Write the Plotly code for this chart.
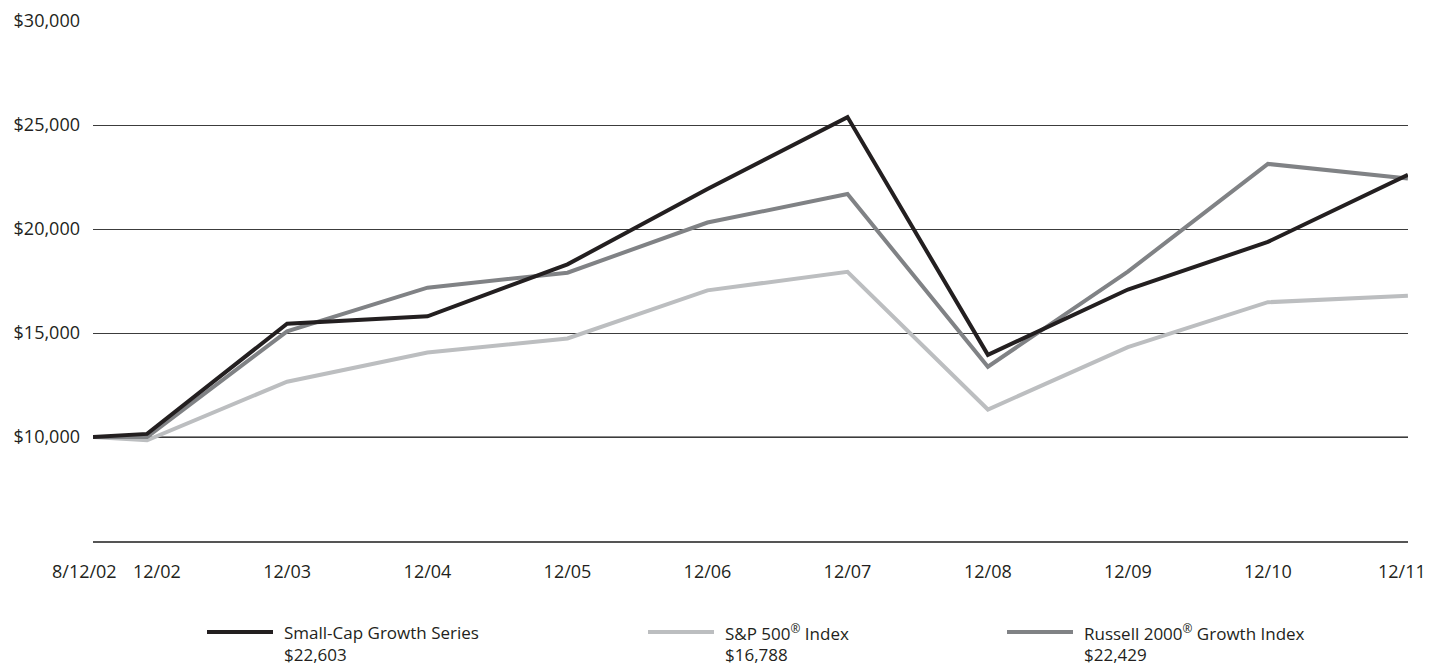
import plotly.graph_objects as go
import pandas as pd

# ---- data ----
dates = ["2002-08-12", "2002-12-31", "2003-12-31", "2004-12-31", "2005-12-31",
         "2006-12-31", "2007-12-31", "2008-12-31", "2009-12-31", "2010-12-31",
         "2011-12-31"]
tick_labels = ["8/12/02", "12/02", "12/03", "12/04", "12/05", "12/06",
               "12/07", "12/08", "12/09", "12/10", "12/11"]

small_cap = [10000, 10150, 15450, 15800, 18300, 21920, 25380, 13950, 17090, 19380, 22603]
sp500 = [10000, 9840, 12660, 14060, 14740, 17050, 17940, 11320, 14320, 16480, 16788]
russell = [10000, 10000, 15080, 17180, 17900, 20310, 21680, 13380, 17950, 23130, 22429]

series_names = ["Small-Cap Growth Series", "S&P 500<sup>®</sup> Index",
                "Russell 2000<sup>®</sup> Growth Index"]
series_values = [small_cap, sp500, russell]
series_colors = ["#231f20", "#bcbec0", "#808285"]

y_ticks = [10000, 15000, 20000, 25000, 30000]
y_tick_text = ["${:,}".format(v) for v in y_ticks]
initial_value = small_cap[0]

FONT = "Open Sans"
TEXT_COLOR = "#231f20"
FS = 18
LEG_FS = 17

fig = go.Figure()

# draw lighter lines first so the dark line sits on top, as in the reference
draw_order = [1, 2, 0]
for i in draw_order:
    fig.add_trace(go.Scatter(
        x=dates, y=series_values[i], mode="lines",
        line=dict(color=series_colors[i], width=4),
        name=series_names[i], showlegend=False, hoverinfo="skip",
    ))

# baseline at initial investment (lighter, thicker than the other gridlines)
fig.add_shape(type="line", xref="paper", yref="y", x0=0, x1=1,
              y0=initial_value, y1=initial_value,
              line=dict(color="#8a8a8a", width=2), layer="between")

# crowded / edge x labels: drawn as annotations nudged into place
nudged = {0: -9, 1: 10, len(dates) - 1: -6}
axis_ticktext = ["" if k in nudged else t for k, t in enumerate(tick_labels)]
for k, shift in nudged.items():
    fig.add_annotation(x=dates[k], xref="x", y=0, yref="paper",
                       text=tick_labels[k], showarrow=False,
                       xanchor="center", yanchor="middle",
                       xshift=shift, yshift=-30,
                       font=dict(family=FONT, size=FS, color=TEXT_COLOR))

# manual legend
legend_x = [(207 - 93) / 1315, (648 - 93) / 1315, (1007 - 93) / 1315]
sample_len = 66 / 1315
text_gap = 9 / 1315
y_line = (541 - 632) / 520
y_val = (541 - 654) / 520
for i in range(3):
    x0 = legend_x[i]
    fig.add_shape(type="line", xref="paper", yref="paper",
                  x0=x0, x1=x0 + sample_len, y0=y_line, y1=y_line,
                  line=dict(color=series_colors[i], width=4))
    fig.add_annotation(xref="paper", yref="paper", x=x0 + sample_len + text_gap,
                       y=y_line, text=series_names[i], showarrow=False,
                       xanchor="left", yanchor="middle",
                       font=dict(family=FONT, size=LEG_FS, color=TEXT_COLOR))
    fig.add_annotation(xref="paper", yref="paper", x=x0 + sample_len + text_gap,
                       y=y_val, text="${:,}".format(series_values[i][-1]),
                       showarrow=False, xanchor="left", yanchor="middle",
                       font=dict(family=FONT, size=LEG_FS, color=TEXT_COLOR))

x_end = (pd.Timestamp(dates[-1]) + pd.Timedelta(hours=6)).strftime("%Y-%m-%d %H:%M")

fig.update_layout(
    width=1429, height=665,
    margin=dict(l=93, r=21, t=21, b=124, autoexpand=False),
    paper_bgcolor="white", plot_bgcolor="white",
    font=dict(family=FONT, size=FS, color=TEXT_COLOR),
    xaxis=dict(
        type="date", range=[dates[0], x_end], automargin=False,
        tickmode="array", tickvals=dates, ticktext=axis_ticktext,
        tickangle=0, ticklabeloverflow="allow",
        showgrid=False, zeroline=False,
        showline=True, linecolor="#555555", linewidth=1.5,
        ticks="", ticklabelstandoff=14,
        tickfont=dict(family=FONT, size=FS, color=TEXT_COLOR),
    ),
    yaxis=dict(
        range=[5000, 30000], tickmode="array", automargin=False,
        tickvals=y_ticks, ticktext=y_tick_text,
        showgrid=True, gridcolor="#3c3c3c", gridwidth=1,
        zeroline=False, showline=False, ticks="",
        ticklabelstandoff=12,
        tickfont=dict(family=FONT, size=FS, color=TEXT_COLOR),
    ),
)

fig.write_html("out.html")
